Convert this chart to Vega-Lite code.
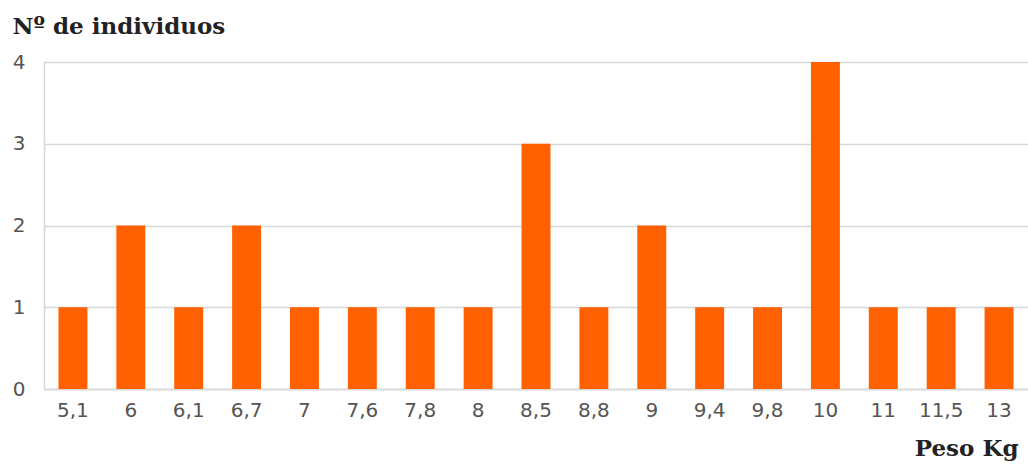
{
  "$schema": "https://vega.github.io/schema/vega-lite/v6.json",
  "autosize": "none",
  "width": 984,
  "height": 327,
  "padding": {"left": 44, "top": 62, "right": 0, "bottom": 75},
  "background": "white",
  "data": {"values": [
    {"peso": "5,1", "n": 1},
    {"peso": "6", "n": 2},
    {"peso": "6,1", "n": 1},
    {"peso": "6,7", "n": 2},
    {"peso": "7", "n": 1},
    {"peso": "7,6", "n": 1},
    {"peso": "7,8", "n": 1},
    {"peso": "8", "n": 1},
    {"peso": "8,5", "n": 3},
    {"peso": "8,8", "n": 1},
    {"peso": "9", "n": 2},
    {"peso": "9,4", "n": 1},
    {"peso": "9,8", "n": 1},
    {"peso": "10", "n": 4},
    {"peso": "11", "n": 1},
    {"peso": "11,5", "n": 1},
    {"peso": "13", "n": 1}
  ]},
  "config": {"view": {"stroke": null}},
  "mark": {"type": "bar", "color": "#ff6000"},
  "encoding": {
    "x": {
      "field": "peso", "type": "ordinal", "sort": null,
      "scale": {"paddingInner": 0.5, "paddingOuter": 0.25},
      "axis": {
        "title": "Peso Kg",
        "titleFont": "DejaVu Serif", "titleFontWeight": "bold", "titleFontSize": 23, "titleColor": "#222",
        "titleAnchor": "end", "titleAlign": "right", "titleX": 974, "titleY": 66, "titleBaseline": "alphabetic",
        "labelAngle": 0, "labelFont": "DejaVu Sans", "labelFontSize": 20, "labelColor": "#555", "labelPadding": 11,
        "ticks": false, "domainColor": "#d8d8d8", "domainWidth": 1.5
      }
    },
    "y": {
      "field": "n", "type": "quantitative",
      "scale": {"domain": [0, 4]},
      "axis": {
        "title": "Nº de individuos",
        "titleFont": "DejaVu Serif", "titleFontWeight": "bold", "titleFontSize": 23, "titleColor": "#222",
        "titleAngle": 0, "titleAlign": "left", "titleBaseline": "alphabetic", "titleX": -32, "titleY": -29,
        "values": [0, 1, 2, 3, 4], "labelFont": "DejaVu Sans", "labelFontSize": 20, "labelColor": "#555", "labelPadding": 19,
        "ticks": false, "domain": true, "domainColor": "#d8d8d8", "domainWidth": 1.5,
        "grid": true, "gridColor": "#d8d8d8", "gridWidth": 1.5
      }
    }
  }
}
